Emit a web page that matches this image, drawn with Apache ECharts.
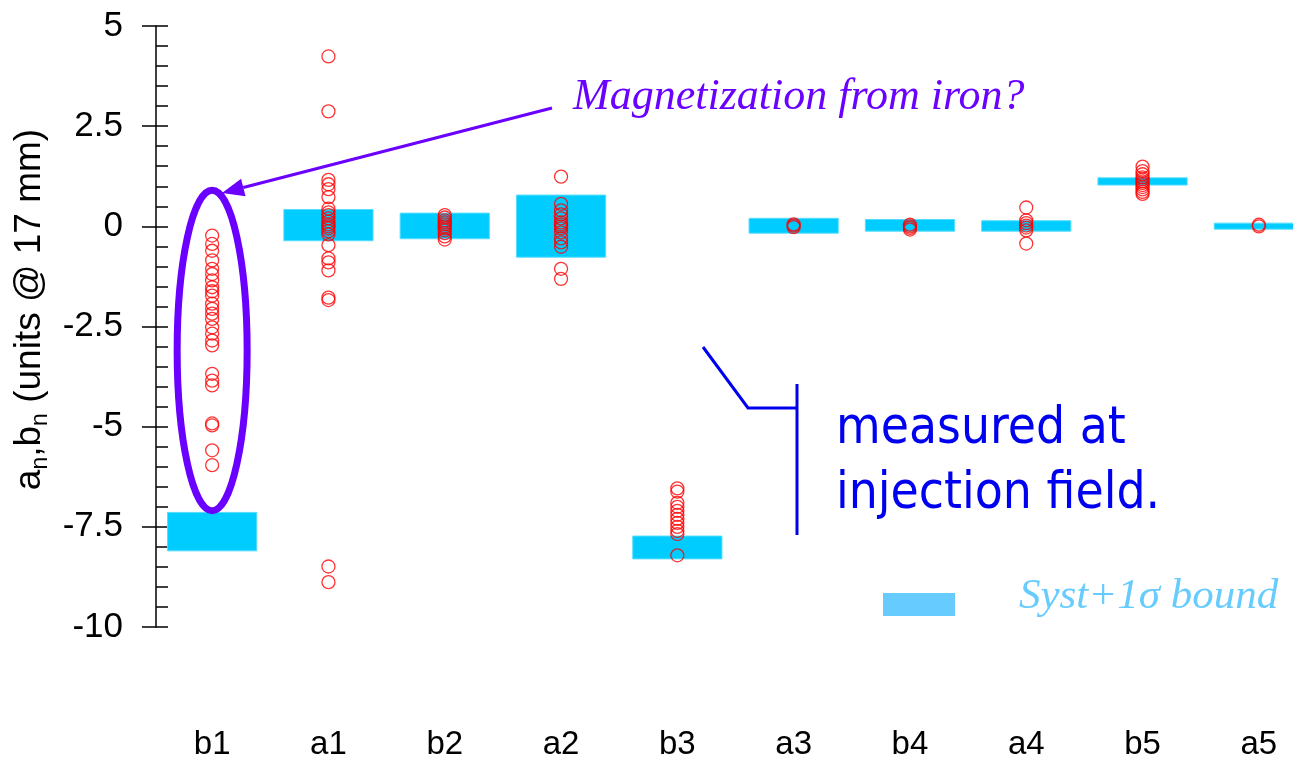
<!DOCTYPE html>
<html>
<head>
<meta charset="utf-8">
<script src="https://cdn.jsdelivr.net/npm/echarts@6/dist/echarts.min.js"></script>
<style>
  html, body { margin: 0; padding: 0; background: #ffffff; overflow: hidden; }
  #chart { width: 1330px; height: 761px; }
</style>
</head>
<body>
<div id="chart"></div>
<script>
// ---- data ----
const categories = ['b1', 'a1', 'b2', 'a2', 'b3', 'a3', 'b4', 'a4', 'b5', 'a5'];
// Syst + 1 sigma bound (low / high)
const boundLow  = [-8.10, -0.36, -0.31, -0.77, -8.30, -0.17, -0.12, -0.12, 1.03, -0.07];
const boundHigh = [-7.14,  0.42,  0.33,  0.78, -7.73,  0.20,  0.17,  0.14, 1.21,  0.08];
// measured values (injection field)
const measB1 = [-0.23, -0.44, -0.61, -0.85, -1.06, -1.19, -1.35, -1.52, -1.62, -1.73, -1.93, -2.06, -2.18, -2.31, -2.52, -2.68, -2.85, -2.97, -3.68, -3.85, -3.97, -4.92, -4.97, -5.59, -5.96];
const measA1 = [4.24, 2.87, 1.16, 1.05, 0.93, 0.73, 0.44, 0.35, 0.28, 0.2, 0.12, 0.05, 0, -0.05, -0.12, -0.2, -0.47, -0.8, -0.9, -1.1, -1.78, -1.84, -8.49, -8.88];
const measB2 = [0.28, 0.22, 0.15, 0.1, 0.05, 0, -0.05, -0.1, -0.17, -0.25, -0.33];
const measA2 = [1.24, 0.56, 0.4, 0.3, 0.2, 0.1, 0.05, 0, -0.05, -0.15, -0.3, -0.4, -0.51, -1.06, -1.31];
const measB3 = [-6.54, -6.62, -6.9, -7.0, -7.1, -7.2, -7.3, -7.4, -7.5, -7.6, -7.68, -8.21];
const measA3 = [0.05, 0.02, -0.02];
const measB4 = [0.04, 0, -0.04, -0.08];
const measA4 = [0.47, 0.15, 0.08, 0.02, -0.03, -0.1, -0.43];
const measB5 = [1.49, 1.38, 1.3, 1.22, 1.17, 1.12, 1.08, 1.03, 0.98, 0.92, 0.86, 0.81];
const measA5 = [0.04, 0.0];
const measured = [measB1, measA1, measB2, measA2, measB3, measA3, measB4, measA4, measB5, measA5];
const yMin = -10, yMax = 5, yStep = 2.5;

// ---- build ----
const boundData = categories.map((c, i) => [i, boundLow[i], boundHigh[i]]);
const scatterData = [];
measured.forEach((arr, i) => arr.forEach(v => scatterData.push([categories[i], v])));

const FONT = 'Liberation Sans, Arial, sans-serif';
const chart = echarts.init(document.getElementById('chart'), null, { renderer: 'canvas' });

const option = {
  animation: false,
  backgroundColor: '#ffffff',
  grid: { left: 154, top: 26, width: 1163, height: 602 },
  xAxis: {
    type: 'category',
    data: categories,
    boundaryGap: true,
    axisLine: { show: false },
    axisTick: { show: false },
    splitLine: { show: false },
    axisLabel: { margin: 101, fontSize: 33, color: '#000', fontFamily: FONT }
  },
  yAxis: [
    {
      type: 'value', min: yMin, max: yMax, interval: yStep, offset: -2,
      axisLine: { show: true, lineStyle: { color: '#000', width: 1.5 } },
      axisTick: { show: true, inside: true, length: 12, lineStyle: { color: '#000', width: 1.5 } },
      minorTick: { show: true, splitNumber: 5, length: 12, lineStyle: { color: '#000', width: 1.5 } },
      splitLine: { show: false },
      minorSplitLine: { show: false },
      axisLabel: { margin: 33, fontSize: 35, color: '#000', fontFamily: FONT },
      name: '{n|a}{s|n}{n|,b}{s|n}{n| (units @ 17 mm)}',
      nameLocation: 'middle',
      nameRotate: 90,
      nameGap: 90,
      nameTextStyle: {
        padding: [0, 0, 0, 34],
        rich: {
          n: { fontSize: 37, fontFamily: FONT, color: '#000', lineHeight: 44 },
          s: { fontSize: 23, fontFamily: FONT, color: '#000', lineHeight: 22, verticalAlign: 'bottom' }
        }
      }
    },
    {
      type: 'value', min: yMin, max: yMax, interval: yStep, offset: -2, position: 'left',
      axisLine: { show: false },
      axisTick: { show: true, inside: false, length: 14, lineStyle: { color: '#000', width: 1.5 } },
      axisLabel: { show: false },
      splitLine: { show: false }
    }
  ],
  series: [
    {
      name: 'Syst+1σ bound',
      type: 'custom',
      data: boundData,
      encode: { x: 0, y: [1, 2] },
      z: 2,
      renderItem: function (params, api) {
        const i = api.value(0);
        const pLo = api.coord([i, api.value(1)]);
        const pHi = api.coord([i, api.value(2)]);
        const w = api.size([1, 0])[0] * 0.767;
        return {
          type: 'rect',
          shape: { x: pHi[0] - w / 2, y: pHi[1], width: w, height: pLo[1] - pHi[1] },
          style: { fill: '#00CCFF', stroke: '#55DDFF', lineWidth: 1 }
        };
      }
    },
    {
      name: 'measured',
      type: 'scatter',
      data: scatterData,
      z: 4,
      symbol: 'circle',
      symbolSize: 13,
      itemStyle: { color: 'rgba(0,0,0,0)', borderColor: '#FF0000', borderWidth: 1.3 }
    }
  ]
};
chart.setOption(option);

// ---- annotations ----
const PURPLE = '#6A00FF';
const BLUE = '#0000F0';
// ellipse around b1 measurements (spans roughly 0.9 .. -7.1)
const eTop = chart.convertToPixel({ gridIndex: 0 }, ['b1', 0.9]);
const eBot = chart.convertToPixel({ gridIndex: 0 }, ['b1', -7.1]);
const tip = [222, 193], start = [552, 108];
const dx = tip[0] - start[0], dy = tip[1] - start[1];
const L = Math.sqrt(dx * dx + dy * dy);
const ux = dx / L, uy = dy / L, nx = -uy, ny = ux;
const hl = 22, hw = 9;
const bx = tip[0] - hl * ux, by = tip[1] - hl * uy;

chart.setOption({
  graphic: [
    {
      type: 'ellipse', z: 10,
      shape: { cx: eTop[0], cy: (eTop[1] + eBot[1]) / 2, rx: 35, ry: (eBot[1] - eTop[1]) / 2 },
      style: { fill: 'none', stroke: PURPLE, lineWidth: 7 }
    },
    {
      type: 'line', z: 10,
      shape: { x1: start[0], y1: start[1], x2: bx, y2: by },
      style: { stroke: PURPLE, lineWidth: 3 }
    },
    {
      type: 'polygon', z: 10,
      shape: { points: [tip, [bx + hw * nx, by + hw * ny], [bx - hw * nx, by - hw * ny]] },
      style: { fill: PURPLE }
    },
    {
      type: 'text', z: 10,
      style: {
        x: 573, y: 97, text: 'Magnetization from iron?',
        font: 'italic 44px "Liberation Serif", "DejaVu Serif", serif',
        fill: PURPLE, textVerticalAlign: 'middle'
      }
    },
    // bracket
    {
      type: 'polyline', z: 10,
      shape: { points: [[703, 347], [748, 408], [797, 408]] },
      style: { stroke: BLUE, lineWidth: 3, fill: 'none' }
    },
    {
      type: 'line', z: 10,
      shape: { x1: 797, y1: 384, x2: 797, y2: 535 },
      style: { stroke: BLUE, lineWidth: 3 }
    },
    {
      type: 'text', z: 10,
      style: {
        x: 836, y: 430, text: 'measured at',
        font: '51px "DejaVu Sans Condensed", "DejaVu Sans", sans-serif',
        fill: BLUE, textVerticalAlign: 'middle'
      }
    },
    {
      type: 'text', z: 10,
      style: {
        x: 836, y: 495, text: 'injection field.',
        font: '51px "DejaVu Sans Condensed", "DejaVu Sans", sans-serif',
        fill: BLUE, textVerticalAlign: 'middle'
      }
    },
    // legend
    {
      type: 'rect', z: 10,
      shape: { x: 883, y: 593, width: 72, height: 23 },
      style: { fill: '#66CCFF' }
    },
    {
      type: 'text', z: 10,
      style: {
        x: 1019, y: 597, text: 'Syst+1σ bound',
        font: 'italic 43px "Liberation Serif", "DejaVu Serif", serif',
        fill: '#66CCFF', textVerticalAlign: 'middle'
      }
    }
  ]
});
</script>
</body>
</html>
